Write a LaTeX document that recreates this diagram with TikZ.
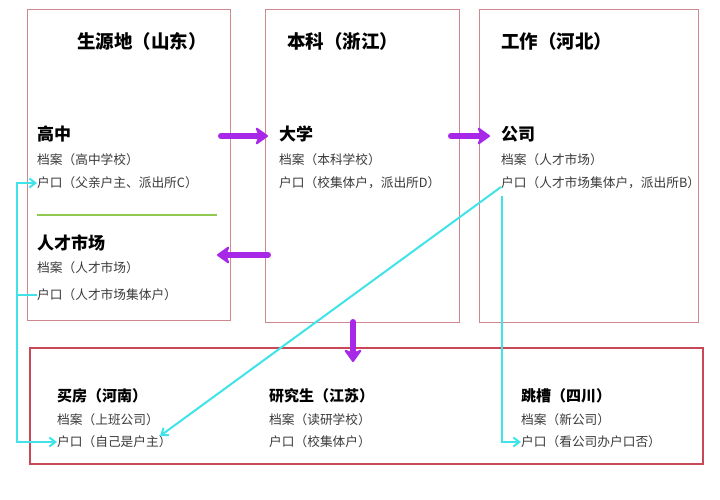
\documentclass[tikz,border=0pt]{standalone}
\usepackage{fontspec}
\setmainfont{Noto Sans CJK SC}
\usetikzlibrary{arrows.meta}
\definecolor{boxred}{HTML}{D08890}
\definecolor{boxred2}{HTML}{C84858}
\definecolor{purp}{HTML}{A828E8}
\definecolor{cyanl}{HTML}{40E4E8}
\definecolor{greenl}{HTML}{90C850}
\definecolor{txt}{HTML}{3A3A3A}
\begin{document}
\begin{tikzpicture}[x=1pt,y=-1pt,
  frame/.style={draw=boxred,line width=1pt},
  title/.style={anchor=west,inner sep=0pt,font=\fontsize{18.5}{18.5}\selectfont\bfseries},
  head/.style={anchor=west,inner sep=0pt,font=\fontsize{17}{17}\selectfont\bfseries},
  bhead/.style={anchor=west,inner sep=0pt,font=\fontsize{15}{15}\selectfont\bfseries},
  body/.style={anchor=west,inner sep=0pt,text=txt,font=\fontsize{12.7}{12.7}\selectfont},
  parrow/.style={draw=purp,line width=6pt,line cap=round,-{Stealth[length=14pt,width=20pt,inset=4pt,line width=2pt,round]}},
  carrow/.style={draw=cyanl,line width=2pt,-{Straight Barb[length=6pt,width=9pt]}},
  cline/.style={draw=cyanl,line width=2pt}]
\useasboundingbox (0,0) rectangle (720,499);
\fill[white] (0,0) rectangle (720,499);
% frames
\draw[frame] (27,9) rectangle (230,320);
\draw[frame] (265,9) rectangle (459,322);
\draw[frame] (479,9) rectangle (698,322);
\draw[draw=boxred2,line width=1.2pt] (30,348) rectangle (703,464);
% titles
\node[title] (t1) at (77,41) {生源地（山东）};
\node[title] (t2) at (287,41) {本科（浙江）};
\node[title] (t3) at (501,41) {工作（河北）};
% box1
\node[head] (gz) at (37,134) {高中};
\node[body] (gz1) at (37,160) {档案（高中学校）};
\node[body] (gz2) at (37,183) {户口（父亲户主、派出所C）};
\draw[greenl,line width=1.2pt] (37,215) -- (217,215);
\node[head] (rc) at (37,243) {人才市场};
\node[body] (rc1) at (37,268) {档案（人才市场）};
\node[body] (rc2) at (37,295) {户口（人才市场集体户）};
% box2
\node[head] (dx) at (279,134) {大学};
\node[body] (dx1) at (279,160) {档案（本科学校）};
\node[body] (dx2) at (279,183) {户口（校集体户，派出所D）};
% box3
\node[head] (gs) at (501,134) {公司};
\node[body] (gs1) at (501,160) {档案（人才市场）};
\node[body] (gs2) at (501,183) {户口（人才市场集体户，派出所B）};
% bottom
\node[bhead] (mf) at (57,396) {买房（河南）};
\node[body] (mf1) at (57,420) {档案（上班公司）};
\node[body] (mf2) at (57,442) {户口（自己是户主）};
\node[bhead] (yj) at (269,396) {研究生（江苏）};
\node[body] (yj1) at (269,420) {档案（读研学校）};
\node[body] (yj2) at (269,442) {户口（校集体户）};
\node[bhead] (tc) at (521,396) {跳槽（四川）};
\node[body] (tc1) at (521,420) {档案（新公司）};
\node[body] (tc2) at (521,442) {户口（看公司办户口否）};
% purple arrows
\coordinate (p1a) at (221,136); \coordinate (p1b) at (268,136);
\draw[parrow] (p1a) -- (p1b);
\coordinate (p2a) at (451,136); \coordinate (p2b) at (490,136);
\draw[parrow] (p2a) -- (p2b);
\coordinate (p3a) at (268,255); \coordinate (p3b) at (217,255);
\draw[parrow] (p3a) -- (p3b);
\coordinate (p4a) at (353,322); \coordinate (p4b) at (353,362);
\draw[parrow] (p4a) -- (p4b);
% cyan connectors
\coordinate (l1) at (17,183);
\coordinate (l2) at (rc2.west -| l1);
\coordinate (l3) at (17,442);
\draw[cline] (rc2.west) -- (l2);
\draw[carrow] (l3) -- (l1) -- (gz2.west);
\draw[carrow] (l1) -- (l3) -- (mf2.west);
\coordinate (d1) at (501,187);
\coordinate (d2) at (160,436);
\draw[carrow] (d1) -- (d2);
\coordinate (r1) at (502,196);
\coordinate (r2) at (502,442);
\draw[carrow] (r1) -- (r2) -- (tc2.west);
\end{tikzpicture}
\end{document}
